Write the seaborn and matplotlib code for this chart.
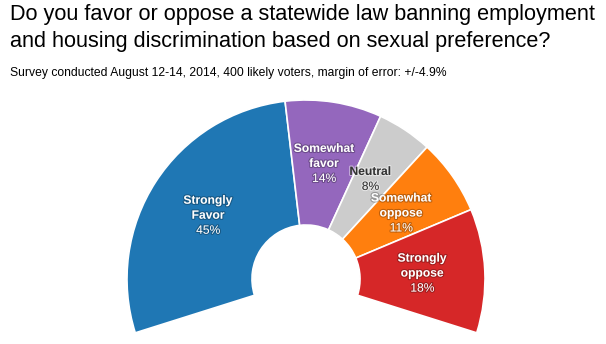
import numpy as np
import matplotlib
matplotlib.use("Agg")
import matplotlib.pyplot as plt
import matplotlib.patheffects as pe
import seaborn as sns

# ---- data ----
categories = ["Strongly\nFavor", "Somewhat\nfavor", "Neutral", "Somewhat\noppose", "Strongly\noppose"]
values = [45, 14, 8, 11, 18]
colors = ["#1f77b4", "#9467bd", "#cccccc", "#ff7f0e", "#d62728"]
label_colors = ["white", "white", "#333333", "white", "white"]
title_lines = ["Do you favor or oppose a statewide law banning employment",
               "and housing discrimination based on sexual preference?"]
subtitle = "Survey conducted August 12-14, 2014, 400 likely voters, margin of error: +/-4.9%"

# ---- layout (pixel units) ----
W, H = 606, 344
CX, CY = 306, H - 279
R_OUT, R_IN = 179, 54
SPAN = 215.0          # total angular span of the semi-donut, degrees
START = 90 + SPAN / 2  # left-bottom start, drawn clockwise
label_nudge = [0, 0, 2.5, -1.5, 0]   # small vertical nudges (px) to keep labels apart

sns.set_theme(style="white")
plt.rcParams["font.family"] = ["Liberation Sans", "DejaVu Sans"]

fig = plt.figure(figsize=(W / 100, H / 100), dpi=100)
ax = fig.add_axes([0, 0, 1, 1])

total = sum(values)
dummy = total * (360 - SPAN) / SPAN
wedges, _ = ax.pie(values + [dummy], radius=R_OUT, center=(CX, CY),
                   startangle=START, counterclock=False,
                   colors=colors + ["none"],
                   wedgeprops=dict(width=R_OUT - R_IN, edgecolor="white", linewidth=1.2))
wedges[-1].set_edgecolor("none")
ax.set_xlim(0, W)
ax.set_ylim(0, H)
ax.set_aspect("equal")
ax.axis("off")

# labels at the ring middle
r_lab = (R_OUT + R_IN) / 2
LS = 15
for w, name, v, tc, nd in zip(wedges[:-1], categories, values, label_colors, label_nudge):
    ang = np.deg2rad((w.theta1 + w.theta2) / 2)
    x = CX + r_lab * np.cos(ang)
    y = CY + r_lab * np.sin(ang) + nd
    lines = name.split("\n") + [f"{v}%"]
    n = len(lines)
    if tc == "white":
        eff = [pe.withStroke(linewidth=1.6, foreground="black", alpha=0.25)]
    else:
        eff = [pe.withStroke(linewidth=1.6, foreground="white", alpha=0.5)]
    for i, ln in enumerate(lines):
        yy = y + ((n - 1) / 2 - i) * LS
        ax.text(x, yy, ln, ha="center", va="center", fontsize=8.7, color=tc,
                fontweight="bold" if i < n - 1 else "normal", path_effects=eff)

# title and subtitle
ax.text(10, H - 20, title_lines[0], ha="left", va="baseline", fontsize=15.6, color="#000000")
ax.text(10, H - 47, title_lines[1], ha="left", va="baseline", fontsize=15.6, color="#000000")
ax.text(10, H - 76, subtitle, ha="left", va="baseline", fontsize=8.7, color="#000000")

fig.savefig("out.png", dpi=100, facecolor="white")
